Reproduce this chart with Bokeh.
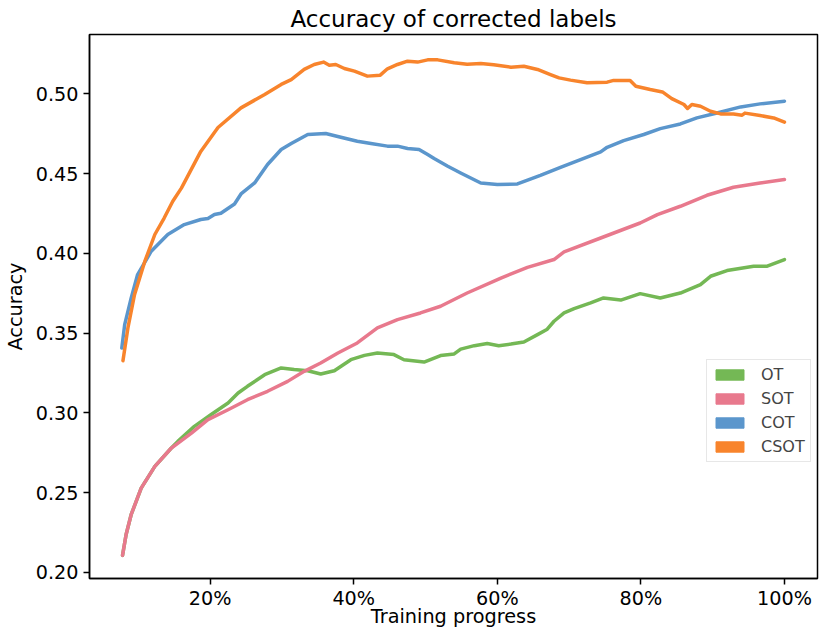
from bokeh.plotting import figure
from bokeh.models import (ColumnDataSource, Range1d, FixedTicker, Legend, LegendItem)
from bokeh.embed import file_html
from bokeh.resources import INLINE

# ---------------- data (x in % of training progress) ----------------
x_ot = [7.8, 8.3, 9.0, 10.4, 12.3, 14.6, 15.5, 17.8, 20.1, 22.5, 23.9, 25.2, 27.6, 29.9,
        31.7, 33.6, 35.4, 37.3, 39.6, 41.5, 43.3, 45.6, 47.0, 49.8, 52.1, 54.0, 54.9,
        56.8, 58.6, 60.2, 61.9, 63.7, 65.6, 66.9, 67.9, 69.3, 70.7, 73.0, 74.8, 77.2,
        79.9, 82.7, 85.5, 88.3, 89.7, 92.0, 95.7, 97.6, 100.0]
y_ot = [0.2107, 0.2238, 0.2362, 0.2529, 0.2665, 0.2780, 0.2822, 0.2916, 0.2989, 0.3062,
        0.3125, 0.3167, 0.3240, 0.3282, 0.3272, 0.3265, 0.3244, 0.3265, 0.3334, 0.3361,
        0.3376, 0.3366, 0.3334, 0.3319, 0.3360, 0.3370, 0.3400, 0.3422, 0.3435, 0.3422,
        0.3432, 0.3445, 0.3491, 0.3523, 0.3575, 0.3627, 0.3654, 0.3690, 0.3721, 0.3708,
        0.3748, 0.3721, 0.3752, 0.3805, 0.3857, 0.3893, 0.3920, 0.3920, 0.3962]

x_sot = [7.8, 8.3, 9.0, 10.4, 12.3, 14.6, 17.4, 19.7, 22.5, 25.2, 28.0, 30.8, 33.1, 35.4,
         37.8, 40.5, 43.3, 46.1, 49.3, 52.1, 55.8, 60.5, 64.2, 67.9, 69.3, 74.4, 79.9,
         82.3, 85.5, 89.2, 92.9, 96.6, 100.0]
y_sot = [0.2107, 0.2238, 0.2362, 0.2529, 0.2665, 0.2780, 0.2874, 0.2958, 0.3020, 0.3083,
         0.3136, 0.3198, 0.3261, 0.3313, 0.3376, 0.3439, 0.3533, 0.3585, 0.3627, 0.3669,
         0.3752, 0.3846, 0.3913, 0.3962, 0.4010, 0.4097, 0.4191, 0.4244, 0.4296, 0.4365,
         0.4415, 0.4442, 0.4464]

x_cot = [7.7, 8.1, 9.0, 9.9, 11.8, 14.1, 16.4, 18.7, 19.7, 20.6, 21.5, 23.4, 24.3, 26.2,
         28.0, 29.9, 31.3, 33.6, 36.1, 38.2, 40.5, 42.4, 44.7, 46.1, 47.5, 49.1, 50.3,
         51.2, 53.1, 54.9, 57.7, 60.0, 62.8, 64.5, 66.0, 68.8, 71.6, 74.4, 75.3, 77.6,
         80.4, 82.7, 85.5, 87.8, 90.6, 93.9, 96.6, 100.0]
y_cot = [0.3407, 0.3554, 0.3720, 0.3868, 0.4014, 0.4119, 0.4181, 0.4213, 0.4219, 0.4244,
         0.4252, 0.4310, 0.4373, 0.4442, 0.4558, 0.4652, 0.4689, 0.4746, 0.4752, 0.4729,
         0.4704, 0.4689, 0.4673, 0.4673, 0.4658, 0.4652, 0.4620, 0.4595, 0.4547, 0.4505,
         0.4442, 0.4432, 0.4436, 0.4465, 0.4490, 0.4540, 0.4589, 0.4637, 0.4666, 0.4708,
         0.4746, 0.4783, 0.4812, 0.4850, 0.4881, 0.4919, 0.4938, 0.4955]

x_csot = [7.86, 8.55, 9.47, 10.9, 12.3, 13.6, 14.8, 16.0, 18.7, 21.1, 24.3, 27.6, 29.9,
          31.3, 33.1, 34.5, 35.8, 36.6, 37.5, 38.7, 40.1, 41.9, 43.7, 44.7, 46.1, 47.5,
          48.9, 50.3, 51.7, 54.0, 55.8, 57.7, 59.5, 61.9, 63.7, 65.6, 67.4, 68.6, 70.2,
          72.5, 75.3, 76.2, 78.5, 79.3, 81.3, 83.0, 84.3, 86.0, 86.5, 87.1, 88.3, 89.7,
          91.1, 92.9, 94.1, 94.5, 96.6, 98.5, 100.0]
y_csot = [0.3328, 0.3533, 0.3742, 0.3950, 0.4119, 0.4222, 0.4327, 0.4410, 0.4640, 0.4790,
          0.4913, 0.4997, 0.5060, 0.5090, 0.5154, 0.5185, 0.5200, 0.5180, 0.5185, 0.5160,
          0.5143, 0.5112, 0.5118, 0.5158, 0.5185, 0.5206, 0.5200, 0.5214, 0.5214, 0.5196,
          0.5187, 0.5191, 0.5183, 0.5168, 0.5174, 0.5154, 0.5122, 0.5101, 0.5087, 0.5070,
          0.5074, 0.5085, 0.5085, 0.5049, 0.5028, 0.5013, 0.4971, 0.4934, 0.4909, 0.4934,
          0.4923, 0.4892, 0.4875, 0.4875, 0.4867, 0.4880, 0.4865, 0.4850, 0.4823]

series_names = ["OT", "SOT", "COT", "CSOT"]
series_colors = ["#74b855", "#e8798d", "#5b96cc", "#f8842c"]

x_ticks = [20, 40, 60, 80, 100]
x_tick_labels = ["20%", "40%", "60%", "80%", "100%"]
y_ticks = [0.20, 0.25, 0.30, 0.35, 0.40, 0.45, 0.50]
y_tick_labels = ["0.20", "0.25", "0.30", "0.35", "0.40", "0.45", "0.50"]

title_text = "Accuracy of corrected labels"
x_label = "Training progress"
y_label = "Accuracy"

FONT = "DejaVu Sans"
NAN = float("nan")

p = figure(width=821, height=630, output_backend="svg", toolbar_location=None,
           x_range=Range1d(3.2, 104.6), y_range=Range1d(0.1962, 0.5373),
           min_border_left=81, min_border_right=4, min_border_top=27, min_border_bottom=52)

p.title.text = title_text
p.title.text_font = FONT
p.title.text_font_size = "23px"
p.title.text_font_style = "normal"
p.title.text_color = "black"
p.title.align = "center"
p.title.standoff = 6

p.xgrid.visible = False
p.ygrid.visible = False
p.outline_line_color = "black"
p.outline_line_width = 1.5
p.background_fill_color = "white"
p.border_fill_color = "white"

for ax in (p.xaxis[0], p.yaxis[0]):
    ax.axis_line_width = 1.5
    ax.axis_line_color = "black"
    ax.major_tick_line_width = 1.5
    ax.major_tick_out = 6
    ax.major_tick_in = 0
    ax.minor_tick_out = 0
    ax.minor_tick_in = 0
    ax.major_label_text_font = FONT
    ax.major_label_text_font_size = "19.2px"
    ax.major_label_text_color = "black"
    ax.axis_label_text_font = FONT
    ax.axis_label_text_font_size = "19.3px"
    ax.axis_label_text_font_style = "normal"
    ax.axis_label_text_color = "black"

p.xaxis[0].ticker = FixedTicker(ticks=x_ticks)
p.xaxis[0].major_label_overrides = {t: l for t, l in zip(x_ticks, x_tick_labels)}
p.xaxis[0].axis_label = x_label
p.xaxis[0].major_label_standoff = 2
p.xaxis[0].axis_label_standoff = -8

p.yaxis[0].ticker = FixedTicker(ticks=y_ticks)
p.yaxis[0].major_label_overrides = {t: l for t, l in zip(y_ticks, y_tick_labels)}
p.yaxis[0].axis_label = y_label
p.yaxis[0].major_label_standoff = 5
p.yaxis[0].axis_label_standoff = 6

xs = [x_ot, x_sot, x_cot, x_csot]
ys = [y_ot, y_sot, y_cot, y_csot]

items = []
for name, color, xv, yv in zip(series_names, series_colors, xs, ys):
    src = ColumnDataSource(data=dict(x=xv, y=yv))
    p.line("x", "y", source=src, line_color=color, line_width=3.5,
           line_join="round", line_cap="round")
    # patch-style legend swatch (nothing drawn in the plot)
    sw = p.quad(left=[NAN], right=[NAN], top=[NAN], bottom=[NAN], fill_color=color,
                line_color=color, line_width=1)
    items.append(LegendItem(label=name, renderers=[sw]))

legend = Legend(items=items, location=(617, 116))
legend.label_text_font = FONT
legend.label_text_font_size = "16px"
legend.glyph_width = 35
legend.glyph_height = 13
legend.label_height = 13
legend.label_width = 44
legend.label_standoff = 14
legend.spacing = 5
legend.padding = 5
legend.margin = 0
legend.border_line_color = "#d0d0d0"
legend.border_line_width = 1.2
legend.background_fill_color = "white"
legend.background_fill_alpha = 0.8
p.add_layout(legend, "center")

open("out.html", "w").write(file_html(p, INLINE))
